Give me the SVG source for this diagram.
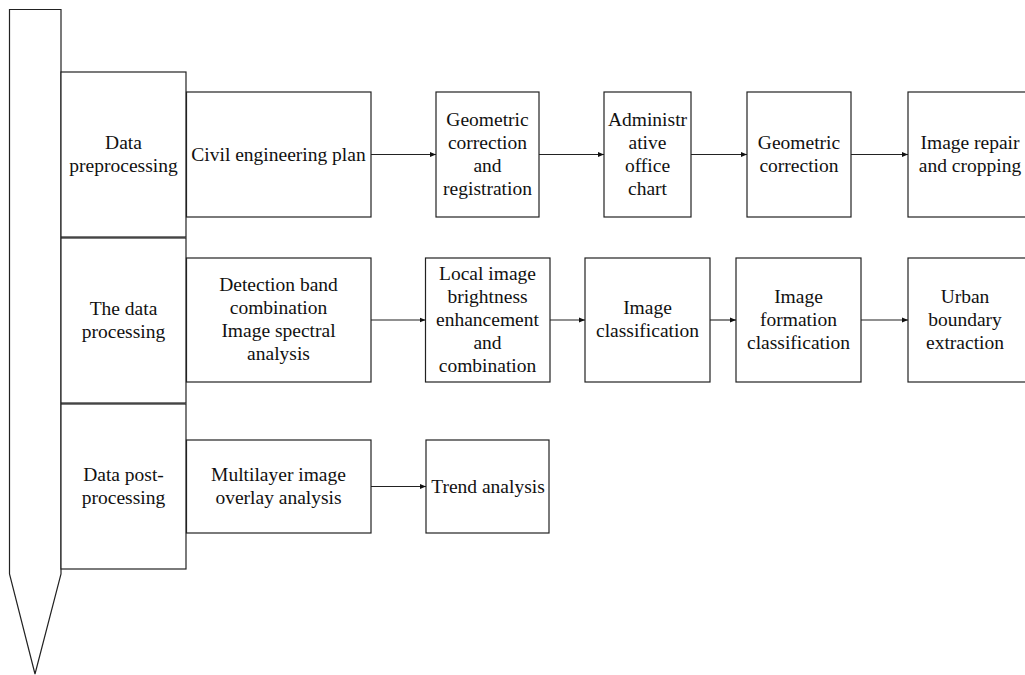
<svg xmlns="http://www.w3.org/2000/svg" width="1025" height="675" viewBox="0 0 1025 675">
<style>
.b{fill:#fff;stroke:#222;stroke-width:1.2}
text{font-family:'Liberation Serif','Times New Roman',Tinos,'DejaVu Serif',serif;font-size:19.5px;fill:#111;text-anchor:middle}
.c{stroke:#222;stroke-width:1.1;fill:none;marker-end:url(#ah)}
</style>
<defs>
<marker id="ah" viewBox="0 0 6 6" refX="6" refY="3" markerWidth="6" markerHeight="6" markerUnits="userSpaceOnUse" orient="auto">
<path d="M0,0.5 L6,3 L0,5.5 Z" fill="#111"/>
</marker>
</defs>
<rect width="1025" height="675" fill="#fff"/>
<g id="timeline">
<polygon class="b" points="9.5,9.5 61,9.5 61,574 35,674 9.5,574"/>
</g>
<g id="phase-pre">
<rect class="b" x="61" y="72" width="125" height="165"/>
<text x="123.5" y="149">Data</text>
<text x="123.5" y="172">preprocessing</text>
</g>
<g id="phase-proc">
<rect class="b" x="61" y="238" width="125" height="165"/>
<text x="123.5" y="315">The data</text>
<text x="123.5" y="338">processing</text>
</g>
<g id="phase-post">
<rect class="b" x="61" y="404" width="125" height="165"/>
<text x="123.5" y="481">Data post-</text>
<text x="123.5" y="504">processing</text>
</g>
<g id="n-civil">
<rect class="b" x="186.5" y="92" width="184.5" height="125"/>
<text x="278.5" y="161">Civil engineering plan</text>
</g>
<g id="n-geo-reg">
<rect class="b" x="436" y="92" width="103" height="125"/>
<text x="487.5" y="126">Geometric</text>
<text x="487.5" y="149">correction</text>
<text x="487.5" y="172">and</text>
<text x="487.5" y="195">registration</text>
</g>
<g id="n-admin">
<rect class="b" x="604" y="92" width="87" height="125"/>
<text x="647.5" y="126">Administr</text>
<text x="647.5" y="149">ative</text>
<text x="647.5" y="172">office</text>
<text x="647.5" y="195">chart</text>
</g>
<g id="n-geo">
<rect class="b" x="747" y="92" width="104" height="125"/>
<text x="799" y="149">Geometric</text>
<text x="799" y="172">correction</text>
</g>
<g id="n-repair">
<rect class="b" x="908" y="92" width="125" height="125"/>
<text x="970" y="149">Image repair</text>
<text x="970" y="172">and cropping</text>
</g>
<g id="n-detect">
<rect class="b" x="186.5" y="258" width="184.5" height="124"/>
<text x="278.5" y="291">Detection band</text>
<text x="278.5" y="314">combination</text>
<text x="278.5" y="337">Image spectral</text>
<text x="278.5" y="360">analysis</text>
</g>
<g id="n-local">
<rect class="b" x="425.5" y="258" width="124.5" height="124"/>
<text x="487.5" y="280">Local image</text>
<text x="487.5" y="303">brightness</text>
<text x="487.5" y="326">enhancement</text>
<text x="487.5" y="349">and</text>
<text x="487.5" y="372">combination</text>
</g>
<g id="n-class">
<rect class="b" x="585" y="258" width="125" height="124"/>
<text x="647.5" y="314">Image</text>
<text x="647.5" y="337">classification</text>
</g>
<g id="n-formation">
<rect class="b" x="736" y="258" width="125" height="124"/>
<text x="798.5" y="303">Image</text>
<text x="798.5" y="326">formation</text>
<text x="798.5" y="349">classification</text>
</g>
<g id="n-urban">
<rect class="b" x="908" y="258" width="125" height="124"/>
<text x="965" y="303">Urban</text>
<text x="965" y="326">boundary</text>
<text x="965" y="349">extraction</text>
</g>
<g id="n-multi">
<rect class="b" x="186.5" y="440" width="184.5" height="93"/>
<text x="278.5" y="481">Multilayer image</text>
<text x="278.5" y="504">overlay analysis</text>
</g>
<g id="n-trend">
<rect class="b" x="426" y="440" width="123" height="93"/>
<text x="488" y="493">Trend analysis</text>
</g>
<g id="connectors">
<line class="c" x1="371" y1="154.5" x2="436" y2="154.5"/>
<line class="c" x1="539" y1="154.5" x2="604" y2="154.5"/>
<line class="c" x1="691" y1="154.5" x2="747" y2="154.5"/>
<line class="c" x1="851" y1="154.5" x2="908" y2="154.5"/>
<line class="c" x1="371" y1="320" x2="425.5" y2="320"/>
<line class="c" x1="550" y1="320" x2="585" y2="320"/>
<line class="c" x1="710" y1="320" x2="736" y2="320"/>
<line class="c" x1="861" y1="320" x2="908" y2="320"/>
<line class="c" x1="371" y1="486.5" x2="426" y2="486.5"/>
</g>
</svg>
